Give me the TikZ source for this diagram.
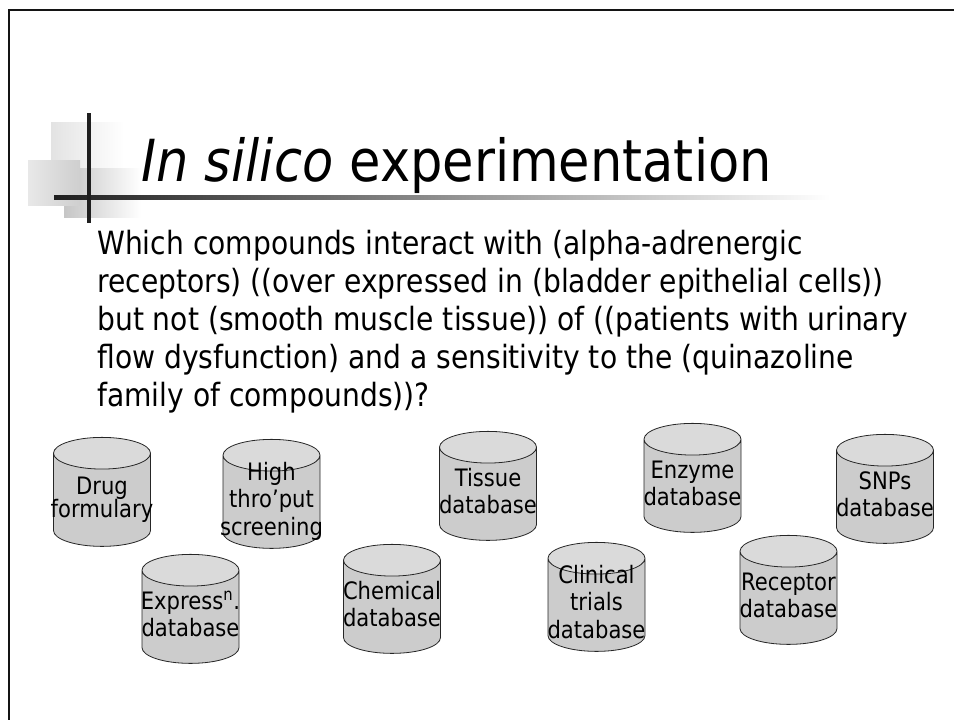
\documentclass[tikz,border=0pt]{standalone}
\usepackage{fontspec}
\setmainfont[FakeStretch=0.88]{DejaVu Sans}
\usetikzlibrary{shapes.geometric}
\definecolor{dbbody}{RGB}{204,204,204}
\definecolor{dbtop}{RGB}{218,218,218}
\definecolor{framegray}{RGB}{20,20,20}
\newcommand{\dblabel}[1]{\makebox[72pt]{\smash{\raisebox{-4.5pt}{\begin{tabular}{@{}c@{}}#1\end{tabular}}}}}

\begin{document}
\begin{tikzpicture}[
  x=0.75pt, y=-0.75pt,
  db/.style={
    cylinder, shape border rotate=90, aspect=0.33,
    draw=black!85, line width=0.6pt,
    minimum width=72.75pt, minimum height=81.75pt, inner sep=0pt,
    cylinder uses custom fill, cylinder body fill=dbbody, cylinder end fill=dbtop,
    font=\fontsize{18}{20.5}\selectfont
  },
  question/.style={anchor=north west, inner sep=0pt, align=left,
    font=\fontsize{24}{28.5}\selectfont},
  heading/.style={anchor=base west, inner sep=0pt,
    font=\fontsize{43.5}{50}\selectfont}
]
\useasboundingbox (0,0) rectangle (954,720);
\clip (0,0) rectangle (954,720);

% Slide frame
\draw[line width=1.5pt, framegray] (9,730) -- (9,10) -- (964,10);

% Title ornament
\shade[left color=gray!22, right color=white] (51,123) rectangle (124,196);
\shade[left color=gray!45, right color=white] (64,169) rectangle (141,218);
\shade[left color=gray!18, right color=gray!38] (28,161) rectangle (80,206);
\shade[left color=black!88, right color=white] (54,196) rectangle (830,200);
\fill[black!88] (87,113) rectangle (91,223);

% Title and question
\node[heading] (title) at (141,182) {\textit{In silico} experimentation};
\node[question] (question) at (97,230) {Which compounds interact with (alpha-adrenergic\\
  receptors) ((over expressed in (bladder epithelial cells))\\
  but not (smooth muscle tissue)) of ((patients with urinary\\
  flow dysfunction) and a sensitivity to the (quinazoline\\
  family of compounds))?};

% Databases
\node[db] (drug)     at (102,500)   {\dblabel{Drug\\[-3pt]formulary}};
\node[db] (hts)      at (271.5,502) {\dblabel{High\\thro’put\\screening}};
\node[db] (expr)     at (190.5,617) {\dblabel{Express\textsuperscript{n}.\\database}};
\node[db] (tissue)   at (488,494)   {\dblabel{Tissue\\database}};
\node[db] (chem)     at (392,607)   {\dblabel{Chemical\\database}};
\node[db] (clin)     at (596.5,605) {\dblabel{Clinical\\trials\\database}};
\node[db] (enzyme)   at (692.5,486) {\dblabel{Enzyme\\database}};
\node[db] (snps)     at (885,497)   {\dblabel{SNPs\\database}};
\node[db] (receptor) at (788.5,598) {\dblabel{Receptor\\database}};

\end{tikzpicture}
\end{document}
